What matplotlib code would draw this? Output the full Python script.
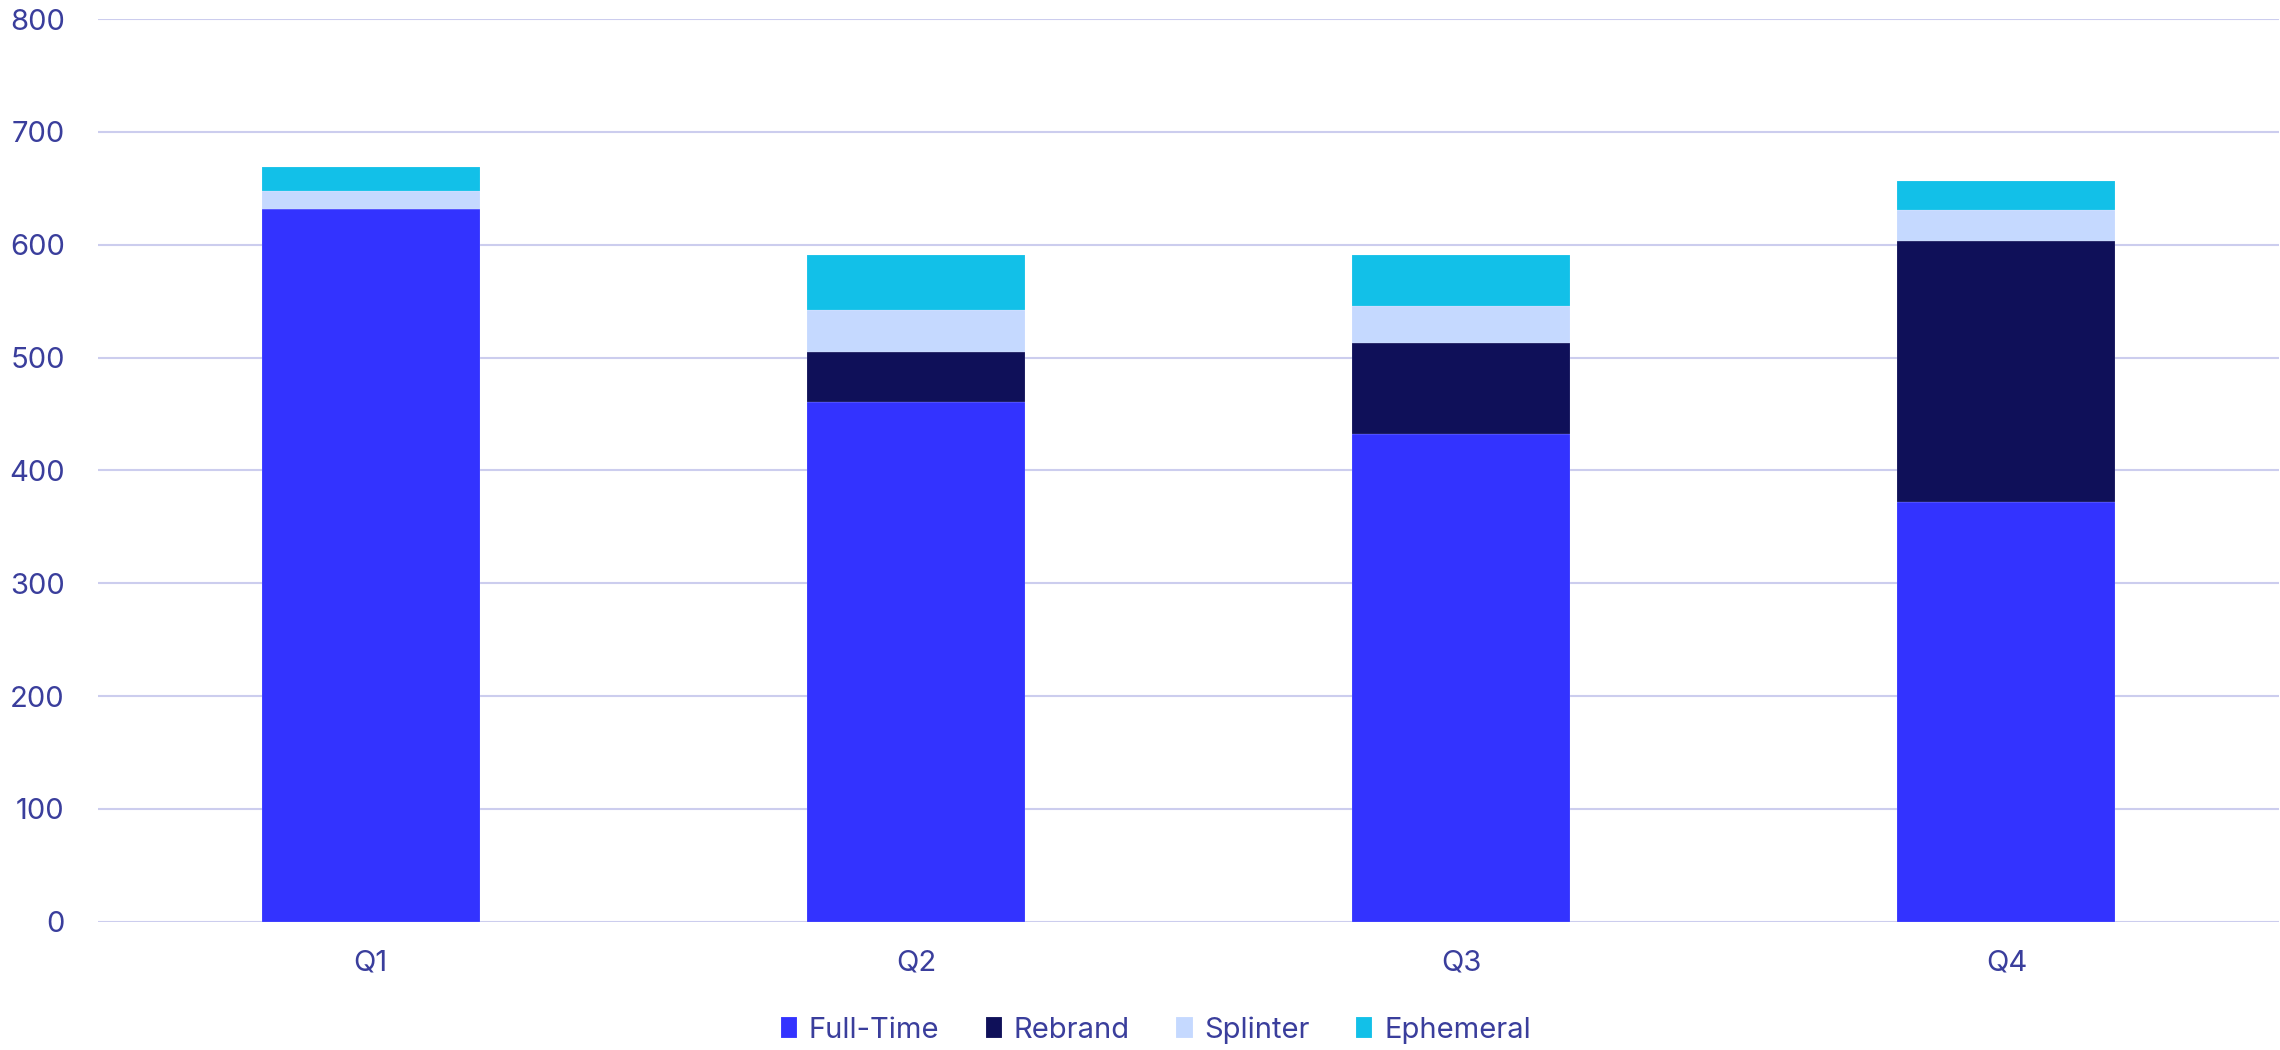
import matplotlib.pyplot as plt
import numpy as np

# Data
quarters = ['Q1', 'Q2', 'Q3', 'Q4']
full_time = [632, 461, 432, 372]
rebrand = [0, 44, 81, 231]
splinter = [16, 37, 33, 28]
ephemeral = [21, 49, 45, 25]

series_names = ['Full-Time', 'Rebrand', 'Splinter', 'Ephemeral']
series_colors = ['#3333ff', '#0f1059', '#c5d9ff', '#12c0e8']

text_color = '#3a3e9c'
grid_color = '#cccdee'

plt.rcParams['font.family'] = ['Inter', 'DejaVu Sans']

fig = plt.figure(figsize=(22.8, 10.5), dpi=100)
ax = fig.add_axes([98 / 2280, 1 - 921.7 / 1050, (2279 - 98) / 2280, (921.7 - 19) / 1050])

x = np.arange(len(quarters))
bottom = np.zeros(len(quarters))
for name, values, color in zip(series_names, [full_time, rebrand, splinter, ephemeral], series_colors):
    vals = np.array(values, dtype=float)
    ax.bar(x, vals, width=0.4, bottom=bottom, color=color, label=name,
           edgecolor=(1, 1, 1, 0.35), linewidth=0.3, zorder=3)
    bottom += vals

ax.set_xlim(-0.5, len(quarters) - 0.5)
ax.set_ylim(0, 800)
ax.set_yticks(np.arange(0, 801, 100))
ax.set_xticks(x)
ax.set_xticklabels(quarters)

ax.grid(axis='y', color=grid_color, linewidth=1.5, zorder=0)
ax.grid(axis='x', visible=False)
for side in ['top', 'right', 'left', 'bottom']:
    ax.spines[side].set_visible(False)
ax.tick_params(axis='both', length=0, labelsize=21, labelcolor=text_color)
ax.tick_params(axis='y', pad=24)
ax.tick_params(axis='x', pad=20)

fig.legend(loc='center', bbox_to_anchor=(0.507, 1 - 1030 / 1050), ncol=4,
           frameon=False, fontsize=21, labelcolor=text_color,
           handlelength=0.55, handleheight=0.7, handletextpad=0.4, columnspacing=1.6)

plt.savefig('out.png', dpi=100)
